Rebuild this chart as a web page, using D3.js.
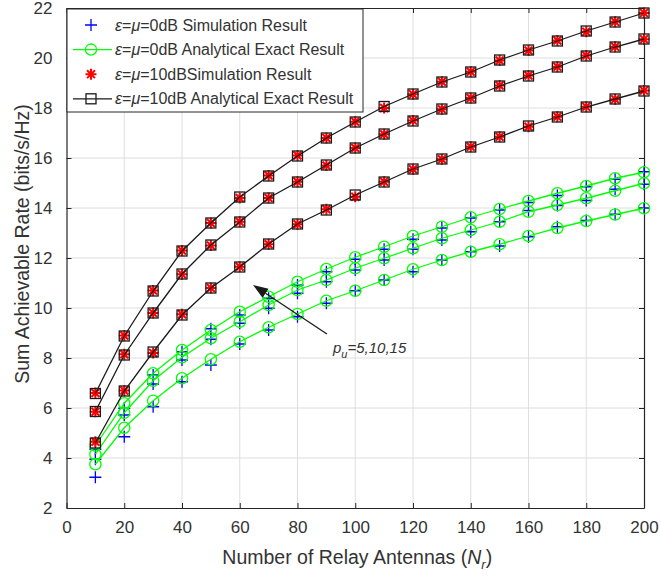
<!DOCTYPE html>
<html>
<head>
<meta charset="utf-8">
<script src="https://cdn.jsdelivr.net/npm/d3@7/dist/d3.min.js"></script>
<style>
  html, body { margin: 0; padding: 0; background: #fff; }
  svg { display: block; font-family: "Liberation Sans", Arial, Helvetica, sans-serif; }
</style>
</head>
<body>
<svg id="chart" width="661" height="582"></svg>
<script>
// Number of relay antennas N_r
const relayAntennas = [10, 20, 30, 40, 50, 60, 70, 80, 90, 100, 110, 120, 130, 140, 150, 160, 170, 180, 190, 200];

// epsilon = mu = 0 dB : simulation (blue +) and analytical exact (green o)
const sim0_pu15 = [4.35, 5.99, 7.32, 8.25, 9.17, 9.72, 10.39, 10.92, 11.45, 11.95, 12.35, 12.75, 13.2, 13.6, 13.92, 14.22, 14.5, 14.85, 15.15, 15.45];
const sim0_pu10 = [3.95, 5.72, 6.96, 7.92, 8.75, 9.39, 9.99, 10.59, 11.05, 11.52, 11.92, 12.35, 12.72, 13.05, 13.45, 13.9, 14.1, 14.3, 14.75, 14.95];
const sim0_pu5  = [3.23, 4.85, 6.05, 7.05, 7.72, 8.56, 9.12, 9.65, 10.19, 10.69, 11.12, 11.45, 11.92, 12.25, 12.48, 12.85, 13.25, 13.5, 13.75, 14.0];
const ana0_pu15 = [4.5, 6.19, 7.39, 8.32, 9.12, 9.85, 10.45, 11.05, 11.56, 12.03, 12.45, 12.88, 13.25, 13.63, 13.96, 14.28, 14.59, 14.88, 15.19, 15.43];
const ana0_pu10 = [4.15, 5.81, 7.09, 8.03, 8.79, 9.45, 10.12, 10.72, 11.12, 11.59, 11.99, 12.39, 12.79, 13.12, 13.45, 13.85, 14.12, 14.39, 14.69, 14.99];
const ana0_pu5  = [3.75, 5.21, 6.29, 7.19, 7.95, 8.65, 9.23, 9.76, 10.29, 10.69, 11.12, 11.55, 11.92, 12.25, 12.55, 12.88, 13.2, 13.48, 13.74, 13.99];

// epsilon = mu = 10 dB : simulation (red *) and analytical exact (black square)
const sim10_pu15 = [6.6, 8.9, 10.7, 12.3, 13.4, 14.4, 15.3, 16.1, 16.8, 17.45, 18.0, 18.55, 19.05, 19.45, 19.9, 20.3, 20.7, 21.05, 21.45, 21.8];
const sim10_pu10 = [5.85, 8.15, 9.8, 11.35, 12.5, 13.45, 14.4, 15.05, 15.7, 16.4, 16.95, 17.5, 17.95, 18.4, 18.9, 19.3, 19.65, 20.1, 20.45, 20.75];
const sim10_pu5  = [4.65, 6.7, 8.2, 9.75, 10.8, 11.65, 12.55, 13.35, 13.95, 14.45, 15.05, 15.55, 15.95, 16.45, 16.85, 17.25, 17.65, 18.05, 18.35, 18.7];
const ana10_pu15 = [6.58, 8.88, 10.68, 12.28, 13.4, 14.44, 15.28, 16.08, 16.8, 17.44, 18.06, 18.56, 19.04, 19.44, 19.92, 20.32, 20.68, 21.08, 21.44, 21.8];
const ana10_pu10 = [5.86, 8.12, 9.8, 11.36, 12.52, 13.44, 14.4, 15.04, 15.72, 16.4, 16.96, 17.48, 17.96, 18.4, 18.88, 19.28, 19.64, 20.08, 20.44, 20.76];
const ana10_pu5  = [4.6, 6.68, 8.24, 9.72, 10.8, 11.64, 12.56, 13.36, 13.92, 14.52, 15.04, 15.56, 15.96, 16.44, 16.84, 17.28, 17.64, 18.04, 18.36, 18.68];

// Axis ticks
const xTicks = [0, 20, 40, 60, 80, 100, 120, 140, 160, 180, 200];
const yTicks = [2, 4, 6, 8, 10, 12, 14, 16, 18, 20, 22];

// Legend entries
const legendLabels = [
  ["0dB Simulation Result"],
  ["0dB Analytical Exact Result"],
  ["10dBSimulation Result"],
  ["10dB Analytical Exact Result"]
];

// Annotation: arrow from (tail) to (head) in data units, label p_u = 5,10,15
const arrowTail = [90.2, 8.96];
const arrowHead = [64.6, 10.92];
const arrowLabelAt = [92.3, 8.2];
const arrowLabelText = "=5,10,15";

const svg = d3.select("#chart");
const plot = { left: 66.5, right: 644, top: 8, bottom: 508 };

const x = d3.scaleLinear().domain([0, 200]).range([plot.left, plot.right]);
const y = d3.scaleLinear().domain([2, 22]).range([plot.bottom, plot.top]);

const axisColor = "#262626";
const gridColor = "#dedede";
const green = "#00ff00";
const blue = "#0000ff";
const red = "#ff0000";

// grid
const grid = svg.append("g");
grid.selectAll("line.gx").data(xTicks.slice(1, -1)).join("line")
  .attr("x1", d => x(d)).attr("x2", d => x(d))
  .attr("y1", plot.top).attr("y2", plot.bottom)
  .attr("stroke", gridColor).attr("stroke-width", 1);
grid.selectAll("line.gy").data(yTicks.slice(1, -1)).join("line")
  .attr("y1", d => y(d)).attr("y2", d => y(d))
  .attr("x1", plot.left).attr("x2", plot.right)
  .attr("stroke", gridColor).attr("stroke-width", 1);

// axes (ticks pointing inward on all four sides)
const tickLen = 5;
const fontTick = 17;
const xAxisB = svg.append("g").attr("transform", `translate(0,${plot.bottom})`)
  .call(d3.axisBottom(x).tickValues(xTicks).tickSizeInner(-tickLen).tickSizeOuter(0).tickPadding(13));
const xAxisT = svg.append("g").attr("transform", `translate(0,${plot.top})`)
  .call(d3.axisTop(x).tickValues(xTicks).tickSizeInner(-tickLen).tickSizeOuter(0).tickFormat(""));
const yAxisL = svg.append("g").attr("transform", `translate(${plot.left},0)`)
  .call(d3.axisLeft(y).tickValues(yTicks).tickSizeInner(-tickLen).tickSizeOuter(0).tickPadding(14));
const yAxisR = svg.append("g").attr("transform", `translate(${plot.right},0)`)
  .call(d3.axisRight(y).tickValues(yTicks).tickSizeInner(-tickLen).tickSizeOuter(0).tickFormat(""));
[xAxisB, xAxisT, yAxisL, yAxisR].forEach(g => {
  g.select(".domain").attr("stroke", axisColor).attr("stroke-width", 1.2);
  g.selectAll(".tick line").attr("stroke", axisColor).attr("stroke-width", 1);
  g.selectAll(".tick text").attr("fill", "#333").attr("font-size", fontTick)
    .attr("font-family", "Liberation Sans, Arial, sans-serif");
});

// axis titles
svg.append("text")
  .attr("x", (plot.left + plot.right) / 2 + 2).attr("y", 564)
  .attr("text-anchor", "middle").attr("font-size", 19.5).attr("fill", "#333")
  .call(t => {
    t.append("tspan").text("Number of Relay Antennas (");
    t.append("tspan").attr("font-style", "italic").text("N");
    t.append("tspan").attr("font-style", "italic").attr("font-size", 13).attr("dy", 5).text("r");
    t.append("tspan").attr("dy", -5).text(")");
  });
svg.append("text")
  .attr("transform", `translate(29,${(plot.top + plot.bottom) / 2 - 14}) rotate(-90)`)
  .attr("text-anchor", "middle").attr("font-size", 19.5).attr("fill", "#333")
  .text("Sum Achievable Rate (bits/s/Hz)");

// marker generators
function plusPath(cx, cy, s) {
  return `M${cx - s},${cy}H${cx + s}M${cx},${cy - s}V${cy + s}`;
}
function starPath(cx, cy, s) {
  const d = s * 0.72;
  return `M${cx - s},${cy}H${cx + s}M${cx},${cy - s}V${cy + s}` +
         `M${cx - d},${cy - d}L${cx + d},${cy + d}M${cx - d},${cy + d}L${cx + d},${cy - d}`;
}

const lineGen = d3.line().x((d, i) => x(relayAntennas[i])).y(d => y(d));
const marks = svg.append("g");

// 0 dB simulation (blue +)
[sim0_pu15, sim0_pu10, sim0_pu5].forEach(series => {
  marks.append("g").selectAll("path").data(series).join("path")
    .attr("d", (d, i) => plusPath(x(relayAntennas[i]), y(d), 6))
    .attr("stroke", blue).attr("stroke-width", 1.3).attr("fill", "none");
});

// 0 dB analytical (green line + circle)
[ana0_pu15, ana0_pu10, ana0_pu5].forEach(series => {
  marks.append("path").attr("d", lineGen(series))
    .attr("stroke", green).attr("stroke-width", 1.3).attr("fill", "none");
  marks.append("g").selectAll("circle").data(series).join("circle")
    .attr("cx", (d, i) => x(relayAntennas[i])).attr("cy", d => y(d)).attr("r", 5.6)
    .attr("stroke", green).attr("stroke-width", 1.3).attr("fill", "none");
});

// 10 dB simulation (red *)
[sim10_pu15, sim10_pu10, sim10_pu5].forEach(series => {
  marks.append("g").selectAll("path").data(series).join("path")
    .attr("d", (d, i) => starPath(x(relayAntennas[i]), y(d), 5.5))
    .attr("stroke", red).attr("stroke-width", 2).attr("fill", "none");
});

// 10 dB analytical (black line + square)
[ana10_pu15, ana10_pu10, ana10_pu5].forEach(series => {
  marks.append("path").attr("d", lineGen(series))
    .attr("stroke", "#1a1a1a").attr("stroke-width", 1.3).attr("fill", "none");
  marks.append("g").selectAll("rect").data(series).join("rect")
    .attr("x", (d, i) => x(relayAntennas[i]) - 5).attr("y", d => y(d) - 5)
    .attr("width", 10).attr("height", 10)
    .attr("stroke", "#1a1a1a").attr("stroke-width", 1.3).attr("fill", "none");
});

// annotation arrow
const ax1 = x(arrowTail[0]), ay1 = y(arrowTail[1]);
const ax2 = x(arrowHead[0]), ay2 = y(arrowHead[1]);
const ang = Math.atan2(ay2 - ay1, ax2 - ax1);
const headLen = 15, headHalf = 5.5;
const bx = ax2 - headLen * Math.cos(ang), by = ay2 - headLen * Math.sin(ang);
svg.append("line").attr("x1", ax1).attr("y1", ay1).attr("x2", bx).attr("y2", by)
  .attr("stroke", "#1a1a1a").attr("stroke-width", 1.3);
svg.append("path")
  .attr("d", `M${ax2},${ay2}L${bx + headHalf * Math.sin(ang)},${by - headHalf * Math.cos(ang)}` +
             `L${bx - headHalf * Math.sin(ang)},${by + headHalf * Math.cos(ang)}Z`)
  .attr("fill", "#1a1a1a");
svg.append("text")
  .attr("x", x(arrowLabelAt[0])).attr("y", y(arrowLabelAt[1]))
  .attr("font-size", 15).attr("font-style", "italic").attr("fill", "#333")
  .call(t => {
    t.append("tspan").text("p");
    t.append("tspan").attr("font-size", 11).attr("dy", 5).text("u");
    t.append("tspan").attr("dy", -5).text(arrowLabelText);
  });

// legend
const legend = svg.append("g");
const lg = { x: 67, y: 9, w: 296, h: 103, rowY0: 25, rowH: 24.6 };
legend.append("rect").attr("x", lg.x).attr("y", lg.y).attr("width", lg.w).attr("height", lg.h)
  .attr("fill", "#fff").attr("stroke", axisColor).attr("stroke-width", 1);
const mx = 91, lx1 = 73, lx2 = 112, tx = 115;
legendLabels.forEach((lab, i) => {
  const cy = lg.rowY0 + i * lg.rowH;
  if (i === 0) {
    legend.append("path").attr("d", plusPath(mx, cy, 6)).attr("stroke", blue).attr("stroke-width", 1.3);
  } else if (i === 1) {
    legend.append("line").attr("x1", lx1).attr("x2", lx2).attr("y1", cy).attr("y2", cy)
      .attr("stroke", green).attr("stroke-width", 1.3);
    legend.append("circle").attr("cx", mx).attr("cy", cy).attr("r", 5.6)
      .attr("stroke", green).attr("stroke-width", 1.3).attr("fill", "none");
  } else if (i === 2) {
    legend.append("path").attr("d", starPath(mx, cy, 5.5)).attr("stroke", red).attr("stroke-width", 2);
  } else {
    legend.append("line").attr("x1", lx1).attr("x2", lx2).attr("y1", cy).attr("y2", cy)
      .attr("stroke", "#1a1a1a").attr("stroke-width", 1.3);
    legend.append("rect").attr("x", mx - 5).attr("y", cy - 5).attr("width", 10).attr("height", 10)
      .attr("stroke", "#1a1a1a").attr("stroke-width", 1.3).attr("fill", "none");
  }
  legend.append("text").attr("x", tx).attr("y", cy + 5.5)
    .attr("font-size", 16).attr("fill", "#333")
    .call(t => {
      t.append("tspan").attr("font-style", "italic").text("ε");
      t.append("tspan").text("=");
      t.append("tspan").attr("font-style", "italic").text("μ");
      t.append("tspan").text("=" + lab[0]);
    });
});
</script>
</body>
</html>
